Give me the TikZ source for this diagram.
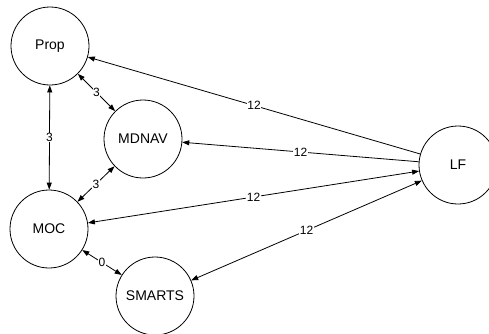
\documentclass[tikz,border=0pt]{standalone}
\usepackage{fontspec}
\setmainfont{Liberation Sans}
\usetikzlibrary{arrows.meta}
\begin{document}
\begin{tikzpicture}[x=1pt,y=-1pt,
  nd/.style={draw,circle,minimum size=78pt,inner sep=0pt,line width=0.8pt,font=\fontsize{14}{16}\selectfont},
  ed/.style={line width=0.8pt,{Triangle[length=7pt,width=5pt]}-{Triangle[length=7pt,width=5pt]}},
  eda/.style={line width=0.8pt,-{Triangle[length=7pt,width=5pt]}},
  lb/.style={fill=white,inner sep=0.5pt,font=\fontsize{12}{13}\selectfont}]
\useasboundingbox (0,0) rectangle (489,333);
\node[nd] (prop) at (50,46) {Prop};
\node[nd] (mdnav) at (143,139) {MDNAV};
\node[nd] (moc) at (49,229) {MOC};
\node[nd] (smarts) at (155,296) {SMARTS};
\node[nd] (lf) at (458,165) {LF};
\draw[eda] (lf) -- node[lb] {12} (prop);
\draw[eda] (lf) -- node[lb] {12} (mdnav);
\draw[ed] (moc) -- node[lb] {12} (lf);
\draw[ed] (smarts) -- node[lb] {12} (lf);
\draw[ed] (prop) -- node[lb] {3} (moc);
\draw[ed] (prop) -- node[lb] {3} (mdnav);
\draw[ed] (moc) -- node[lb] {3} (mdnav);
\draw[ed] (moc) -- node[lb] {0} (smarts);
\end{tikzpicture}
\end{document}
